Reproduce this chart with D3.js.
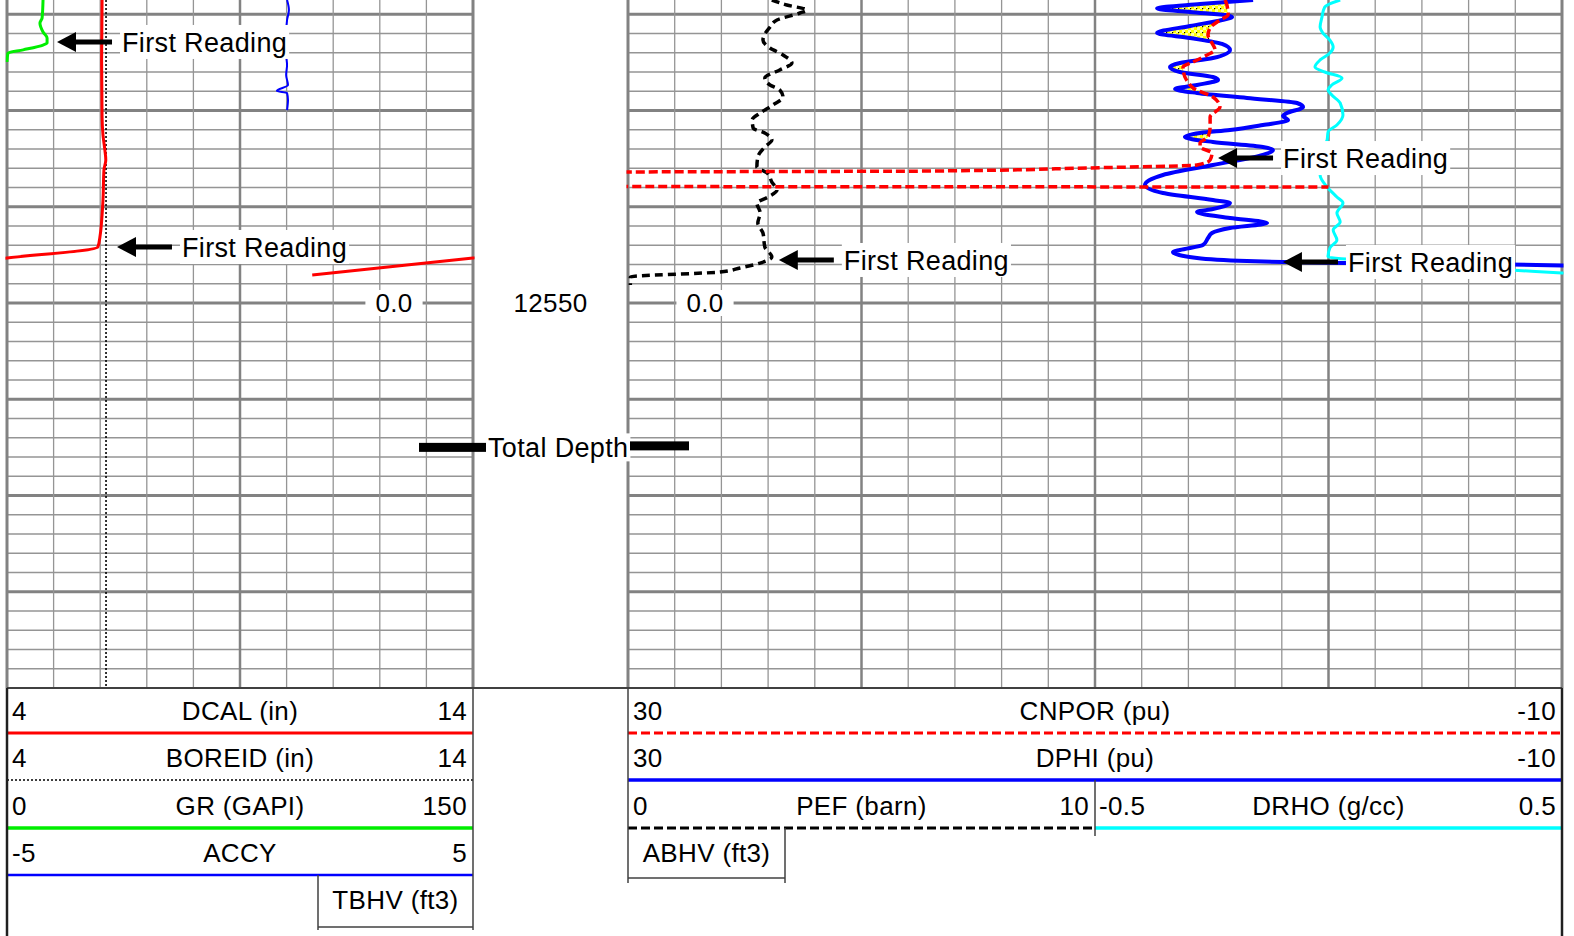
<!DOCTYPE html>
<html><head><meta charset="utf-8">
<script src="https://cdn.jsdelivr.net/npm/d3@7/dist/d3.min.js"></script>
<style>
html,body{margin:0;padding:0;background:#fff;}
svg{display:block;}
text{font-family:Arial,"Liberation Sans",Helvetica,sans-serif;fill:#000;letter-spacing:0.35px;}
</style></head><body>
<svg id="chart" width="1574" height="936"></svg>
<script>
// ================= DATA =================
// depth reference (ft)
const depthLabelStep = 50;
const totalDepth = 12565.0;
const volumeTickLabel = "0.0";

// Left track curves
const dcalDepth = [12518.52,12524.75,12530.68,12532.55,12534.10,12535.14,12536.18,12539.30,12540.86,12542.94,12544.18,12545.33,12547.09];
const dcalVal   = [6.04,6.03,6.04,6.06,6.10,6.12,6.08,6.06,6.04,6.00,5.95,4.00,0.55];

const boreDepth = [12518.52,12590.0];
const boreVal   = [6.125,6.125];

const grDepth = [12518.52,12520.39,12520.91,12521.84,12522.47,12522.99,12523.20,12523.70,12524.03,12524.96];
const grVal   = [11.6,11.3,10.6,11.6,12.9,12.9,11.6,5.2,0.3,0.0];

const accyDepth = [12518.52,12519.56,12520.60,12521.95,12523.20,12524.23,12525.27,12526.31,12527.35,12527.97,12528.18,12528.91,12529.95];
const accyVal   = [1.01,1.05,1.01,0.99,1.03,0.99,1.01,0.99,1.03,0.79,1.01,1.03,1.01];

// Right track curves
const cnporDepth = [12518.52,12519.04,12520.08,12520.60,12521.43,12522.16,12522.99,12523.71,12524.23,12524.96,12525.48,12526.52,12527.04,12527.66,12528.60,12529.64,12530.68,12531.71,12532.75,12533.38,12533.79,12534.42,12535.14,12535.66,12535.97,12536.29,12536.39,12537.22,12537.85,12537.95];
const cnporVal   = [4.43,4.35,4.30,4.65,5.07,5.16,4.99,4.86,5.20,5.80,6.23,6.15,6.02,5.80,4.95,4.65,5.07,5.07,5.16,5.50,5.50,4.99,5.07,5.63,10.34,16.98,29.83,45.0,45.0,0.0];

const dphiDepth = [12518.52,12518.94,12519.40,12519.77,12520.13,12520.29,12520.60,12521.22,12521.95,12522.47,12523.09,12523.71,12524.55,12525.07,12525.48,12526.00,12526.52,12526.83,12527.35,12527.77,12528.18,12528.70,12529.22,12529.64,12530.26,12530.57,12530.99,12531.51,12532.03,12532.34,12532.75,12533.27,12533.79,12534.10,12534.62,12535.66,12536.70,12537.74,12538.57,12539.30,12539.61,12540.23,12540.55,12541.17,12541.69,12542.21,12542.73,12543.25,12543.97,12544.49,12544.70,12545.33,12545.64,12545.74,12545.85,12546.00,12546.10,12546.26];
const dphiVal   = [3.23,5.50,7.34,5.93,4.30,4.13,4.56,5.93,7.34,5.93,4.56,4.22,4.95,6.36,6.79,6.36,4.95,4.73,5.63,6.57,5.63,3.49,1.35,1.09,1.78,1.95,1.73,2.81,4.22,5.50,6.15,4.95,2.81,2.38,2.81,4.95,7.09,7.86,7.09,4.95,4.22,4.95,5.63,4.22,2.63,4.22,4.99,5.16,5.37,6.36,6.66,5.63,3.49,1.95,-0.62,-7.69,-10.0,-11.63];

const pefDepth = [12518.52,12519.04,12519.56,12519.87,12520.60,12521.33,12522.68,12523.51,12524.23,12525.07,12525.79,12526.62,12527.35,12527.87,12528.60,12529.43,12530.26,12530.99,12531.82,12532.34,12533.07,12533.79,12534.83,12535.87,12536.49,12537.43,12538.26,12538.99,12539.61,12540.65,12541.69,12542.73,12544.18,12545.22,12545.85,12546.36,12546.78,12547.30,12548.13];
const pefVal   = [3.08,3.40,3.83,3.68,3.19,3.04,2.89,3.04,3.32,3.51,3.25,2.93,3.04,3.25,3.32,3.10,2.83,2.66,2.68,2.93,3.08,2.93,2.78,2.76,2.98,3.08,3.19,3.00,2.76,2.83,2.78,2.89,2.93,3.08,2.83,2.40,1.97,0.05,0.05];

const drhoDepth = [12518.52,12519.25,12520.29,12521.33,12521.95,12522.68,12523.40,12524.03,12524.75,12525.48,12526.00,12526.62,12527.35,12527.87,12528.39,12529.22,12530.47,12531.51,12532.23,12533.07,12534.10,12535.66,12536.70,12537.95,12538.99,12539.61,12540.65,12541.59,12542.42,12543.46,12544.29,12545.22,12545.74,12546.57,12546.88,12547.20];
const drhoVal   = [0.025,-0.008,-0.014,-0.018,-0.012,0.003,0.010,0.003,-0.018,-0.029,-0.008,0.029,0.007,-0.001,0.007,0.025,0.031,0.018,-0.001,-0.003,-0.014,-0.018,-0.018,-0.003,0.018,0.031,0.018,0.025,0.010,0.018,0.003,-0.001,0.153,0.389,0.5,0.6];

// crossover shading limit (end of valid CNPOR)
const shadeBottom = 12535.66;

// "First Reading" annotations
const annoCurve = ["GR","DCAL","PEF","CNPOR","DPHI"];
const annoDepth = [12522.88,12544.18,12545.53,12534.94,12545.74];
const annoValue = [16.1,6.36,3.23,4.73,1.95];
const annoText  = "First Reading";

// Header labels
const leftNames = ["DCAL (in)","BOREID (in)","GR (GAPI)","ACCY"];
const leftMin   = ["4","4","0","-5"];
const leftMax   = ["14","14","150","5"];
const rightNames = ["CNPOR (pu)","DPHI (pu)"];
const rightMin   = ["30","30"];
const rightMax   = ["-10","-10"];
const pefLabel = ["0","PEF (barn)","10"];
const drhoLabel = ["-0.5","DRHO (g/cc)","0.5"];
const volNames = ["TBHV (ft3)","ABHV (ft3)"];

// ================= LAYOUT =================
const svg = d3.select("#chart");
const defs = svg.append("defs");
const L0=7, L1=473, R0=628, RM=1095, R1=1562, GB=688;

const y = d3.scaleLinear().domain([12520,12590]).range([14.25,688]);

const sc = {
  DCAL: d3.scaleLinear().domain([4,14]).range([L0,L1]),
  DCALb: d3.scaleLinear().domain([-6,4]).range([L0,L1]),
  BORE: d3.scaleLinear().domain([4,14]).range([L0,L1]),
  GR: d3.scaleLinear().domain([0,150]).range([L0,L1]),
  ACCY: d3.scaleLinear().domain([-5,5]).range([L0,L1]),
  CNPOR: d3.scaleLinear().domain([30,-10]).range([R0,R1]),
  DPHI: d3.scaleLinear().domain([30,-10]).range([R0,R1]),
  PEF: d3.scaleLinear().domain([0,10]).range([R0,RM]),
  DRHO: d3.scaleLinear().domain([-0.5,0.5]).range([RM,R1])
};

// clips
defs.append("clipPath").attr("id","clipL").append("rect").attr("x",L0-1.5).attr("y",0).attr("width",L1-L0+3).attr("height",GB);
defs.append("clipPath").attr("id","clipR").append("rect").attr("x",R0-1.5).attr("y",0).attr("width",R1-R0+3).attr("height",GB);

// yellow pattern
const pat = defs.append("pattern").attr("id","yel").attr("patternUnits","userSpaceOnUse").attr("width",6).attr("height",6);
pat.append("rect").attr("width",6).attr("height",6).attr("fill","#ffff00");
pat.append("rect").attr("x",0).attr("y",0).attr("width",3).attr("height",3).attr("fill","#ffffa0");
pat.append("rect").attr("x",3).attr("y",3).attr("width",3).attr("height",3).attr("fill","#ffffa0");
pat.append("rect").attr("x",2).attr("y",2).attr("width",1.2).attr("height",1.2).attr("fill","#000");

// ---------- grid ----------
const grid = svg.append("g");
const depthGrid = d3.range(12518, 12590, 2).filter(d => y(d) >= 0);
[[L0,L1],[R0,R1]].forEach(([a,b])=>{
  grid.append("g").selectAll("line").data(depthGrid).join("line")
    .attr("x1",a).attr("x2",b).attr("y1",d=>y(d)).attr("y2",d=>y(d))
    .attr("stroke",d=> d%10===0 ? "#828282" : "#959595")
    .attr("stroke-width",d=> d%10===0 ? 3 : 1.3);
});
const gL = d3.scaleLinear().domain([0,10]).range([L0,L1]);
const gR = d3.scaleLinear().domain([0,20]).range([R0,R1]);
grid.append("g").selectAll("line").data(d3.range(11)).join("line")
  .attr("x1",d=>gL(d)).attr("x2",d=>gL(d)).attr("y1",0).attr("y2",GB)
  .attr("stroke",d=> d%5===0 ? "#828282" : "#959595")
  .attr("stroke-width",d=> (d===0||d===10) ? 3 : (d===5 ? 2.5 : 1.3));
grid.append("g").selectAll("line").data(d3.range(21)).join("line")
  .attr("x1",d=>gR(d)).attr("x2",d=>gR(d)).attr("y1",0).attr("y2",GB)
  .attr("stroke",d=> d%5===0 ? "#828282" : "#959595")
  .attr("stroke-width",d=> (d===0||d===20) ? 3 : (d%5===0 ? 2.5 : 1.3));

// ---------- curves ----------
const curves = svg.append("g");
function pairs(dep, val){ return dep.map((d,i)=>[d,val[i]]); }
function drawCurve(dep, val, xs, clip, color, w, dash){
  const line = d3.line().x(p=>xs(p[1])).y(p=>y(p[0])).curve(d3.curveMonotoneY);
  curves.append("path").attr("clip-path",`url(#${clip})`)
    .attr("d", line(pairs(dep,val))).attr("fill","none")
    .attr("stroke",color).attr("stroke-width",w)
    .attr("stroke-dasharray",dash||null)
    .attr("stroke-linejoin","round");
}

// crossover shading (DPHI left of CNPOR)
const dSub = pairs(dphiDepth,dphiVal).filter(p=>p[0]<=shadeBottom+1e-6);
const nSub = pairs(cnporDepth,cnporVal).filter(p=>p[0]<=shadeBottom+1e-6);
defs.append("clipPath").attr("id","clipN").append("path")
  .attr("d", d3.area().y(p=>y(p[0])).x0(R0).x1(p=>sc.CNPOR(p[1])).curve(d3.curveMonotoneY)(nSub));
curves.append("path").attr("clip-path","url(#clipN)")
  .attr("d", d3.area().y(p=>y(p[0])).x0(p=>sc.DPHI(p[1])).x1(R1).curve(d3.curveMonotoneY)(dSub))
  .attr("fill","url(#yel)");

// left track
drawCurve(boreDepth, boreVal, sc.BORE, "clipL", "#000", 1.6, "2,2");
drawCurve(accyDepth, accyVal, sc.ACCY, "clipL", "#0000ff", 2);
drawCurve(grDepth, grVal, sc.GR, "clipL", "#00ee00", 3);
drawCurve(dcalDepth, dcalVal, sc.DCAL, "clipL", "#ff0000", 3);
drawCurve(dcalDepth, dcalVal, sc.DCALb, "clipL", "#ff0000", 3);

// right track
drawCurve(pefDepth, pefVal, sc.PEF, "clipR", "#000", 3.5, "8,5");
drawCurve(drhoDepth, drhoVal, sc.DRHO, "clipR", "#00ffff", 3);
drawCurve(dphiDepth, dphiVal, sc.DPHI, "clipR", "#0000ff", 4);
drawCurve(cnporDepth, cnporVal, sc.CNPOR, "clipR", "#ff0000", 3.5, "9,4");

// ---------- annotations ----------
const ann = svg.append("g");
function whiteText(x, yc, str, size, anchor, padX, padY){
  const t = ann.append("text").attr("x",x).attr("y",yc+size*0.358).attr("font-size",size).attr("text-anchor",anchor||"start").text(str);
  const bb = t.node().getBBox();
  ann.insert("rect", function(){ return t.node(); })
    .attr("x",bb.x-padX).attr("y",yc-padY).attr("width",bb.width+2*padX).attr("height",2*padY).attr("fill","#fff");
  return t;
}
annoCurve.forEach((c,i)=>{
  const xt = sc[c](annoValue[i]);
  const yv = y(annoDepth[i]);
  whiteText(xt+65, yv, annoText, 27, "start", 2, 17);
  ann.append("path").attr("d",`M${xt},${yv}L${xt+19},${yv-10}L${xt+19},${yv+10}Z`).attr("fill","#000");
  ann.append("line").attr("x1",xt+18).attr("x2",xt+55).attr("y1",yv).attr("y2",yv).attr("stroke","#000").attr("stroke-width",5);
});

// depth labels and volume ticks
const depthLabels = d3.range(12500, 12601, depthLabelStep).filter(d=>y(d)>=0 && y(d)<=GB);
depthLabels.forEach(d=>{
  whiteText((L1+R0)/2, y(d), String(d), 26, "middle", 4, 12);
  whiteText(394, y(d), volumeTickLabel, 26, "middle", 10, 13);
  whiteText(705, y(d), volumeTickLabel, 26, "middle", 10, 13);
});

// total depth marker
{
  const yt = y(totalDepth);
  whiteText(488, yt, "Total Depth", 27, "start", 2, 14);
  ann.append("rect").attr("x",419).attr("y",yt-4.5).attr("width",67).attr("height",9).attr("fill","#000");
  ann.append("rect").attr("x",630).attr("y",yt-6).attr("width",59).attr("height",9).attr("fill","#000");
}

// ---------- header ----------
const hdr = svg.append("g");
const rowLine = [733,780,828,875];
const hFont = 26;
function hText(x, lineY, str, anchor){
  hdr.append("text").attr("x",x).attr("y",lineY-13.5).attr("font-size",hFont).attr("text-anchor",anchor).text(str);
}
function hLine(x1,x2,yy,color,w,dash){
  hdr.append("line").attr("x1",x1).attr("x2",x2).attr("y1",yy).attr("y2",yy)
    .attr("stroke",color).attr("stroke-width",w).attr("stroke-dasharray",dash||null);
}
function vLine(x,y1,y2,color,w){
  hdr.append("line").attr("x1",x).attr("x2",x).attr("y1",y1).attr("y2",y2).attr("stroke",color).attr("stroke-width",w);
}
// top border
hLine(L0, R1, GB, "#404040", 2);

const leftStyle = [["#ff0000",3,null],["#000",1.5,"2,2"],["#00ee00",3.5,null],["#0000ff",2.5,null]];
leftNames.forEach((n,i)=>{
  hText(L0+5, rowLine[i], leftMin[i], "start");
  hText((L0+L1)/2, rowLine[i], n, "middle");
  hText(L1-6, rowLine[i], leftMax[i], "end");
  hLine(L0, L1, rowLine[i], leftStyle[i][0], leftStyle[i][1], leftStyle[i][2]);
});
const rightStyle = [["#ff0000",3,"9,4"],["#0000ff",3.5,null]];
rightNames.forEach((n,i)=>{
  hText(R0+5, rowLine[i], rightMin[i], "start");
  hText((R0+R1)/2, rowLine[i], n, "middle");
  hText(R1-6, rowLine[i], rightMax[i], "end");
  hLine(R0, R1, rowLine[i], rightStyle[i][0], rightStyle[i][1], rightStyle[i][2]);
});
hText(R0+5, rowLine[2], pefLabel[0], "start");
hText((R0+RM)/2, rowLine[2], pefLabel[1], "middle");
hText(RM-6, rowLine[2], pefLabel[2], "end");
hLine(R0, RM, rowLine[2], "#000", 3, "9,4");
hText(RM+4, rowLine[2], drhoLabel[0], "start");
hText((RM+R1)/2, rowLine[2], drhoLabel[1], "middle");
hText(R1-6, rowLine[2], drhoLabel[2], "end");
hLine(RM, R1, rowLine[2], "#00ffff", 3.5);
vLine(RM, rowLine[1], rowLine[2]+8, "#404040", 1.5);

// volume boxes
hdr.append("text").attr("x",(318+L1)/2).attr("y",909).attr("font-size",hFont).attr("text-anchor","middle").text(volNames[0]);
vLine(318, rowLine[3], 930, "#404040", 1.5);
hLine(318, L1, 927, "#404040", 1.5);
hdr.append("text").attr("x",(R0+785)/2).attr("y",862).attr("font-size",hFont).attr("text-anchor","middle").text(volNames[1]);
vLine(785, rowLine[2], 883, "#404040", 1.5);
hLine(R0, 785, 878, "#404040", 1.5);

// borders
vLine(L0, GB, 936, "#202020", 2.5);
vLine(L1, GB, 930, "#404040", 1.5);
vLine(R0, GB, 883, "#404040", 1.5);
vLine(R1, GB, 936, "#202020", 2.5);
</script>
</body></html>
